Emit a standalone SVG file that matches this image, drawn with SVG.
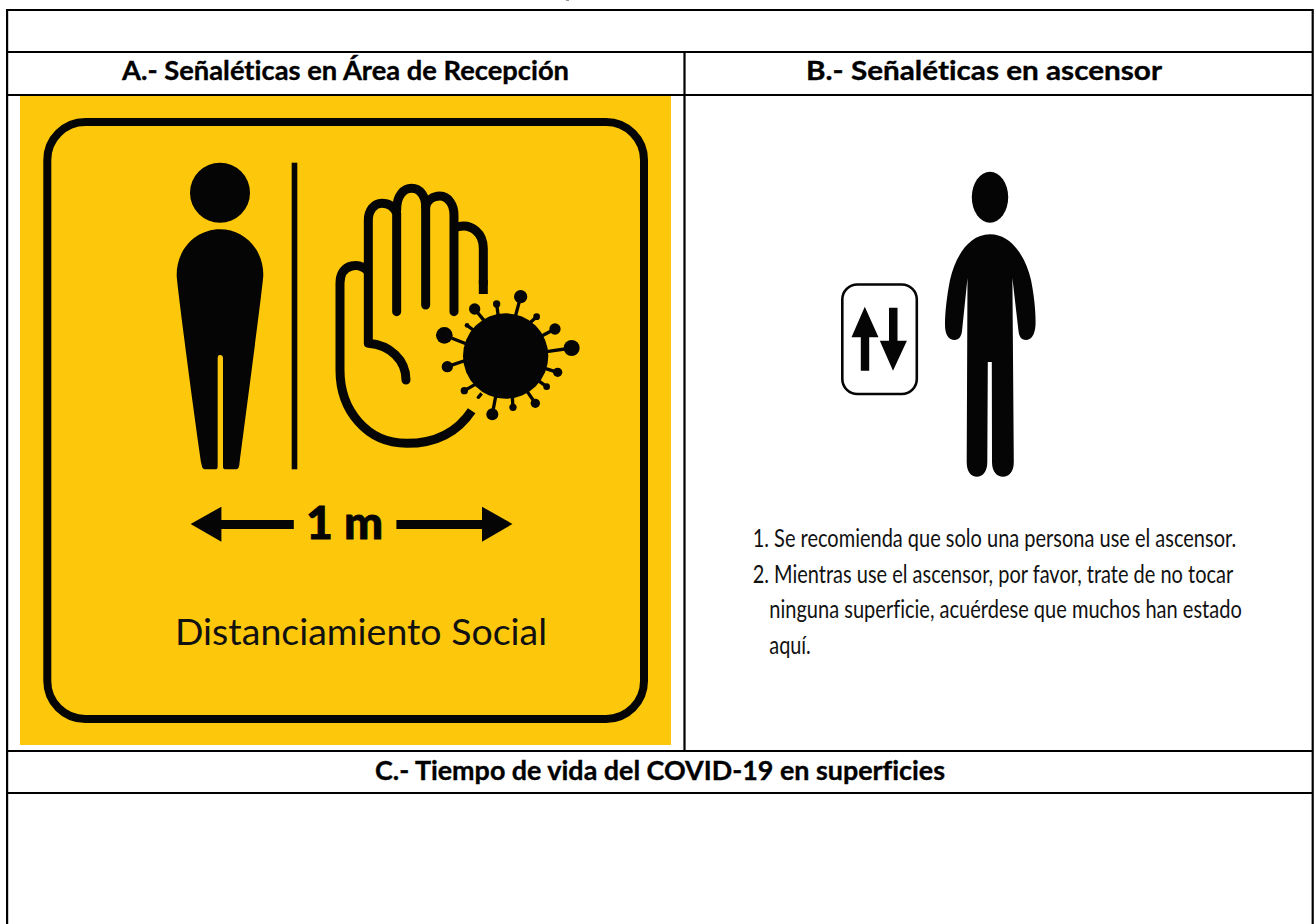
<svg xmlns="http://www.w3.org/2000/svg" width="1314" height="924" viewBox="0 0 1314 924">
<style>
text{font-variant-ligatures:none}
.h{font-family:"Lato","Liberation Sans",sans-serif;font-weight:700;font-size:27px;fill:#000;stroke:#000;stroke-width:.35}
.b{font-family:"Lato","Liberation Sans",sans-serif;fill:#111}
.g{stroke:#000;stroke-width:2.2;fill:none}
.k{fill:#050505}
.s{stroke:#050505;fill:none;stroke-linecap:round;stroke-linejoin:round}
.sp{stroke:#050505;fill:none;stroke-width:10}
</style>
<rect width="1314" height="924" fill="#fff"/>
<rect x="566" y="0" width="3" height="1" fill="#999"/>
<g id="sign-a">
<rect x="20" y="96" width="651" height="649" fill="#fdc80b"/>
<rect x="47.300" y="122" width="596.700" height="597" rx="38" fill="none" stroke="#050505" stroke-width="8"/>
<circle cx="220" cy="192.700" r="30" class="k"/>
<path class="k" transform="translate(150 150) scale(.3333)" d="M210 238C280 238 340 295 340 375C340 400 280 850 268 945Q266 958 258 958L228 958Q219 958 219 950L219 625Q219 615 210 615Q203 615 203 625L203 950Q203 958 195 958L165 958Q157 958 155 945C140 850 80 400 80 375C80 295 140 238 210 238Z"/>
<rect x="291.700" y="162.700" width="5.600" height="306.600" class="k"/>
<g id="hand" transform="translate(330 170) scale(.3333)">
<path class="s" stroke-width="27" d="M200 425L200 130C192 110 175 100 155 100C132 100 115 122 115 150L115 520C180 525 228 570 228 630"/>
<path class="s" stroke-width="27" d="M200 120C200 75 222 55 245 55C270 55 287 78 287 110L287 405"/>
<path class="s" stroke-width="27" d="M287 110C292 90 310 78 330 78C355 78 372 105 372 135L372 425"/>
<path class="s" stroke-width="27" d="M385 170C425 160 460 190 460 235L460 340"/>
<path fill="none" stroke="#050505" stroke-width="27" d="M460 330L460 372"/>
<path fill="none" stroke="#050505" stroke-width="27" stroke-linejoin="round" d="M115 305C100 288 80 285 65 288C42 293 30 312 30 340L30 600C30 720 110 820 230 820C310 820 380 790 425 722"/>
</g>
<g id="virus" transform="translate(330 170) scale(.3333)">
<circle cx="527" cy="558" r="128" class="k"/>
<path class="sp" d="M572 380L556 440M500 402L505 440M434 417L465 455M411 466L430 480M343 496L410 522M352 590L410 570M403 662L445 638M445 682L455 670M487 733L497 680M549 712L547 680M616 700L592 665M650 650L625 632M683 607L645 595M725 534L650 545M675 477L635 498M620 440L596 462"/>
<circle cx="572" cy="380" r="20" class="k"/>
<circle cx="500" cy="402" r="11" class="k"/>
<circle cx="434" cy="417" r="17" class="k"/>
<circle cx="411" cy="466" r="7" class="k"/>
<circle cx="343" cy="496" r="25" class="k"/>
<circle cx="352" cy="590" r="17" class="k"/>
<circle cx="403" cy="662" r="11" class="k"/>
<circle cx="445" cy="682" r="5" class="k"/>
<circle cx="487" cy="733" r="18" class="k"/>
<circle cx="549" cy="712" r="11" class="k"/>
<circle cx="616" cy="700" r="14" class="k"/>
<circle cx="650" cy="650" r="10" class="k"/>
<circle cx="683" cy="607" r="14" class="k"/>
<circle cx="725" cy="534" r="24" class="k"/>
<circle cx="675" cy="477" r="17" class="k"/>
<circle cx="620" cy="440" r="10" class="k"/>
</g>
<path class="k" d="M190.600 524L221.400 506.700L221.400 520L293.800 520L293.800 529L221.400 529L221.400 541.700Z"/>
<text x="306" y="539" font-family="Lato,Liberation Sans,sans-serif" font-weight="900" font-size="45" textLength="77" lengthAdjust="spacingAndGlyphs" fill="#050505" stroke="#050505" stroke-width=".8">1 m</text>
<path class="k" d="M512.500 524L482 506.700L482 520L396.400 520L396.400 529L482 529L482 541.700Z"/>
<text x="175" y="645" class="b" font-size="36" textLength="372" lengthAdjust="spacingAndGlyphs">Distanciamiento Social</text>
</g>
<g id="sign-b">
<rect x="842.300" y="284.500" width="74.500" height="109.500" rx="15" fill="none" stroke="#050505" stroke-width="2.600"/>
<path class="k" d="M864.800 306.700L878.500 337.300L869.200 337.300L869.200 370.700L860.800 370.700L860.800 337.300L851.500 337.300Z"/>
<path class="k" d="M893 370.700L906.900 340.700L897.500 340.700L897.500 307.700L889 307.700L889 340.700L879.800 340.700Z"/>
<ellipse cx="990" cy="197.200" rx="18.200" ry="25.500" class="k"/>
<path class="k" d="M990 234.300C1012 234.300 1026 258 1031 280C1034 295 1036 312 1035.500 325C1035 335 1031 340 1026 340C1021 340 1019 336 1018.500 331L1012.400 278L1013.800 462C1013.800 472 1009 476.700 1003 476.700C997 476.700 992 472 992 462L991.800 362L987.800 362L987.300 462C987.300 472 982.500 476.700 977 476.700C971 476.700 966.700 472 966.700 462L967.500 278L962 331C961.500 336 959 340 954.500 340C949 340 945 335 945 325C945 312 947 295 950 280C955 258 968 234.300 990 234.300Z"/>
<g class="b" font-size="25">
<text transform="translate(752.700 546.500) scale(.8 1)" textLength="604.400" lengthAdjust="spacingAndGlyphs">1. Se recomienda que solo una persona use el ascensor.</text>
<text transform="translate(752.700 582.700) scale(.8 1)" textLength="600.600" lengthAdjust="spacingAndGlyphs">2. Mientras use el ascensor, por favor, trate de no tocar</text>
<text transform="translate(769.300 618.300) scale(.8 1)" textLength="590.600" lengthAdjust="spacingAndGlyphs">ninguna superficie, acuérdese que muchos han estado</text>
<text transform="translate(769.300 654) scale(.8 1)" textLength="51.900" lengthAdjust="spacingAndGlyphs">aquí.</text>
</g>
</g>
<g id="table">
<path class="g" d="M7.100 10H1313M7.100 52H1313M7.100 95H1313M7.100 751H1313M7.100 793H1313M7.100 9V924M1312.700 9V924M684.500 52V751"/>
</g>
<g id="headers">
<text class="h" x="122" y="80" textLength="447" lengthAdjust="spacingAndGlyphs">A.- Señaléticas en Área de Recepción</text>
<text class="h" x="806" y="80" textLength="356" lengthAdjust="spacingAndGlyphs">B.- Señaléticas en ascensor</text>
<text class="h" x="375" y="779.500" textLength="570" lengthAdjust="spacingAndGlyphs">C.- Tiempo de vida del COVID-19 en superficies</text>
</g>
</svg>
